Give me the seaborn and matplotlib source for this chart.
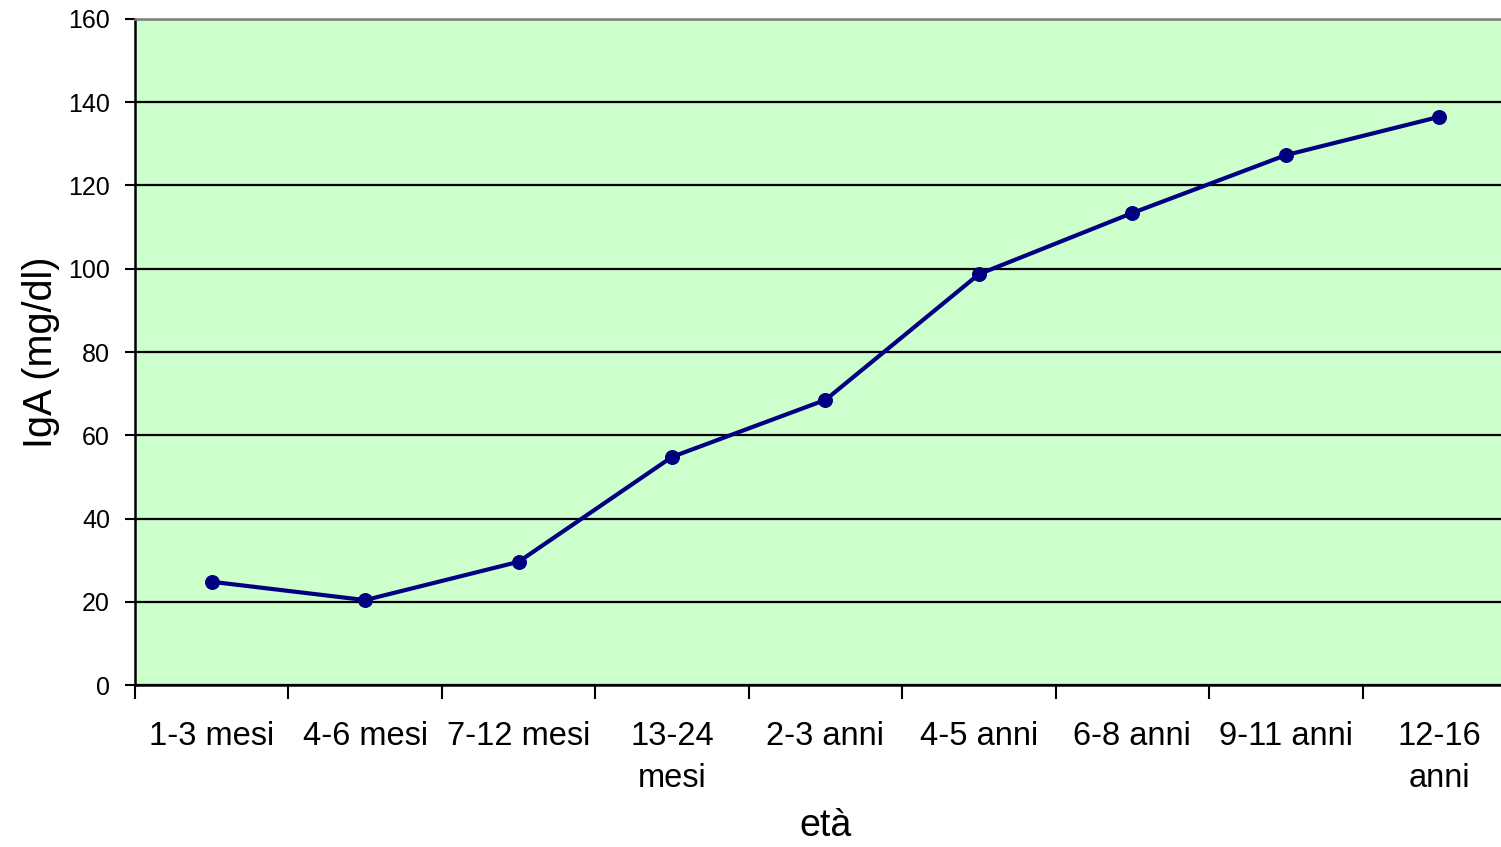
import numpy as np
import pandas as pd
import matplotlib
matplotlib.use("Agg")
import matplotlib.pyplot as plt
import seaborn as sns
from matplotlib.ticker import FixedLocator, NullFormatter

ages = ["1-3 mesi", "4-6 mesi", "7-12 mesi", "13-24\nmesi", "2-3 anni",
        "4-5 anni", "6-8 anni", "9-11 anni", "12-16\nanni"]
iga = [24.8, 20.4, 29.6, 54.8, 68.5, 98.7, 113.4, 127.3, 136.5]
yticks = [0, 20, 40, 60, 80, 100, 120, 140, 160]

sns.set_style("white")
plt.rcParams['font.family'] = ['Liberation Sans', 'DejaVu Sans']
plt.rcParams['text.color'] = 'black'
plt.rcParams['xtick.color'] = 'black'
plt.rcParams['ytick.color'] = 'black'
plt.rcParams['axes.labelcolor'] = 'black'

df = pd.DataFrame({"pos": np.arange(len(ages)), "iga": iga})

fig = plt.figure(figsize=(15.01, 8.47), dpi=100)
ax = fig.add_axes([135/1501, 162/847, 1381/1501, 666/847])
ax.set_facecolor("#CCFFCC")

sns.lineplot(data=df, x="pos", y="iga", ax=ax, color="#000080", linewidth=3,
             marker="o", markersize=10, markeredgecolor="#000080", zorder=3)

ax.set_xlim(-0.5, len(ages) - 0.5)
ax.set_ylim(0, 160)
ax.set_yticks(yticks)
ax.set_yticklabels([str(v) for v in yticks], fontsize=18)

# category ticks at boundaries, labels centred
ax.xaxis.set_major_locator(FixedLocator(np.arange(len(ages) + 1) - 0.5))
ax.xaxis.set_major_formatter(NullFormatter())
ax.xaxis.set_minor_locator(FixedLocator(np.arange(len(ages))))
ax.set_xticklabels(ages, minor=True, fontsize=23.5, linespacing=1.45)
ax.tick_params(axis="x", which="major", direction="out", length=10, width=1.5,
               color="black", bottom=True)
ax.tick_params(axis="x", which="minor", length=0, pad=26)
ax.tick_params(axis="y", direction="out", length=7, width=1.5, color="black",
               left=True, pad=11)

ax.grid(axis="y", color="black", linewidth=1.6)
ax.grid(axis="x", visible=False)
ax.set_axisbelow(True)

for side in ["left", "bottom"]:
    ax.spines[side].set_color("black")
    ax.spines[side].set_linewidth(1.8)
ax.spines["top"].set_color("#808080")
ax.spines["top"].set_linewidth(1.8)
ax.spines["right"].set_visible(False)

ax.set_xlabel("età", fontsize=27, labelpad=10)
ax.set_ylabel("IgA (mg/dl)", fontsize=28.5, labelpad=6)

fig.savefig("out.png", dpi=100)
